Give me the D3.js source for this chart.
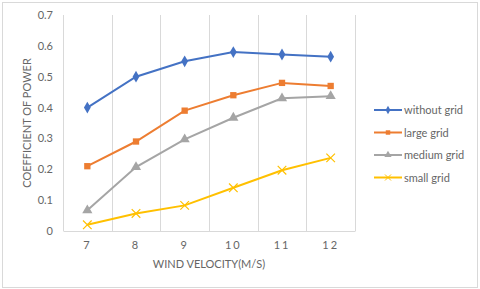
<!DOCTYPE html>
<html>
<head>
<meta charset="utf-8">
<script src="https://cdn.jsdelivr.net/npm/d3@7"></script>
<style>
  body { margin: 0; background: #fff; }
  text { font-family: Lato, "Open Sans", sans-serif; fill: #666; }
</style>
</head>
<body>
<div id="chart-area"></div>
<script>
// DATA
const velocities = ["7", "8", "9", "10", "11", "12"]
const seriesNames = ["without grid", "large grid", "medium grid", "small grid"]
const withoutGrid = [0.40, 0.50, 0.55, 0.58, 0.572, 0.565]
const largeGrid = [0.21, 0.29, 0.39, 0.44, 0.48, 0.47]
const mediumGrid = [0.067, 0.207, 0.297, 0.367, 0.43, 0.437]
const smallGrid = [0.02, 0.057, 0.083, 0.14, 0.197, 0.237]
const yTicks = [0, 0.1, 0.2, 0.3, 0.4, 0.5, 0.6, 0.7]

const COLORS = ["#4472C4", "#ED7D31", "#A5A5A5", "#FFC000"]
const SYMBOLS = [d3.symbolDiamond, d3.symbolSquare, d3.symbolTriangle, d3.symbolX]
const allSeries = [withoutGrid, largeGrid, mediumGrid, smallGrid]

const W = 480, H = 289
const MARGIN = { LEFT: 63, RIGHT: 125, TOP: 15, BOTTOM: 58 }
const WIDTH = W - MARGIN.LEFT - MARGIN.RIGHT
const HEIGHT = H - MARGIN.TOP - MARGIN.BOTTOM

const svg = d3.select("#chart-area").append("svg")
  .attr("width", W)
  .attr("height", H)

// outer border
svg.append("rect")
  .attr("x", 2.5).attr("y", 2.5)
  .attr("width", W - 5).attr("height", H - 4)
  .attr("fill", "#fff").attr("stroke", "#d9d9d9")

const g = svg.append("g")
  .attr("transform", `translate(${MARGIN.LEFT}, ${MARGIN.TOP})`)

// SCALES
const x = d3.scaleBand().domain(velocities).range([0, WIDTH])
const y = d3.scaleLinear().domain([0, 0.7]).range([HEIGHT, 0])

// vertical grid lines at category boundaries
const bounds = velocities.map(v => x(v)).concat([WIDTH])
g.selectAll(".vgrid").data(bounds).enter().append("line")
  .attr("class", "vgrid")
  .attr("x1", d => Math.round(d) + 0.5).attr("x2", d => Math.round(d) + 0.5)
  .attr("y1", 0).attr("y2", HEIGHT)
  .attr("stroke", "#d9d9d9")

// AXES
const xAxisGroup = g.append("g")
  .attr("transform", `translate(0, ${HEIGHT})`)
  .call(d3.axisBottom(x).tickSize(0).tickPadding(10))
xAxisGroup.select(".domain").attr("stroke", "#d9d9d9")
xAxisGroup.selectAll("text")
  .attr("font-size", 11)
  .attr("letter-spacing", "2px")
  .attr("fill", "#666")

const yAxisGroup = g.append("g")
  .call(d3.axisLeft(y).tickValues(yTicks).tickSize(0).tickPadding(10)
    .tickFormat(d => d === 0 ? "0" : d3.format(".1f")(d)))
yAxisGroup.select(".domain").remove()
yAxisGroup.selectAll("text")
  .attr("font-size", 11)
  .attr("fill", "#666")

// axis titles
svg.append("text")
  .attr("x", MARGIN.LEFT + WIDTH / 2)
  .attr("y", 268)
  .attr("text-anchor", "middle")
  .attr("font-size", 11)
  .text("WIND VELOCITY(M/S)")

svg.append("text")
  .attr("transform", `translate(31, ${MARGIN.TOP + HEIGHT / 2}) rotate(-90)`)
  .attr("text-anchor", "middle")
  .attr("font-size", 11)
  .text("COEFFICIENT OF POWER")

// LINES + MARKERS
const line = d3.line()
  .x((d, i) => x(velocities[i]) + x.bandwidth() / 2)
  .y(d => y(d))

const symbolFor = (i, k) => d3.symbol().type(SYMBOLS[i]).size(k * (i === 3 ? 50 : (i === 2 ? 45 : 40)))

allSeries.forEach((vals, i) => {
  g.append("path")
    .datum(vals)
    .attr("d", line)
    .attr("fill", "none")
    .attr("stroke", COLORS[i])
    .attr("stroke-width", 2)

  g.selectAll(".m" + i).data(vals).enter().append("path")
    .attr("class", "m" + i)
    .attr("transform", (d, j) => `translate(${x(velocities[j]) + x.bandwidth() / 2}, ${y(d)})`)
    .attr("d", symbolFor(i, 1)())
    .attr("fill", i === 3 ? "none" : COLORS[i])
    .attr("stroke", COLORS[i])
    .attr("stroke-width", i === 3 ? 1.2 : 0)
})

// LEGEND
const legend = svg.append("g").attr("transform", "translate(374, 110)")
seriesNames.forEach((name, i) => {
  const row = legend.append("g").attr("transform", `translate(0, ${i * 22.5})`)
  row.append("line")
    .attr("x1", 0).attr("x2", 28)
    .attr("stroke", COLORS[i]).attr("stroke-width", 2)
  row.append("path")
    .attr("transform", "translate(14, 0)")
    .attr("d", symbolFor(i, 0.5)())
    .attr("fill", i === 3 ? "none" : COLORS[i])
    .attr("stroke", COLORS[i])
    .attr("stroke-width", i === 3 ? 1 : 0)
  row.append("text")
    .attr("x", 30).attr("y", 4)
    .attr("font-size", 11)
    .text(name)
})
</script>
</body>
</html>
